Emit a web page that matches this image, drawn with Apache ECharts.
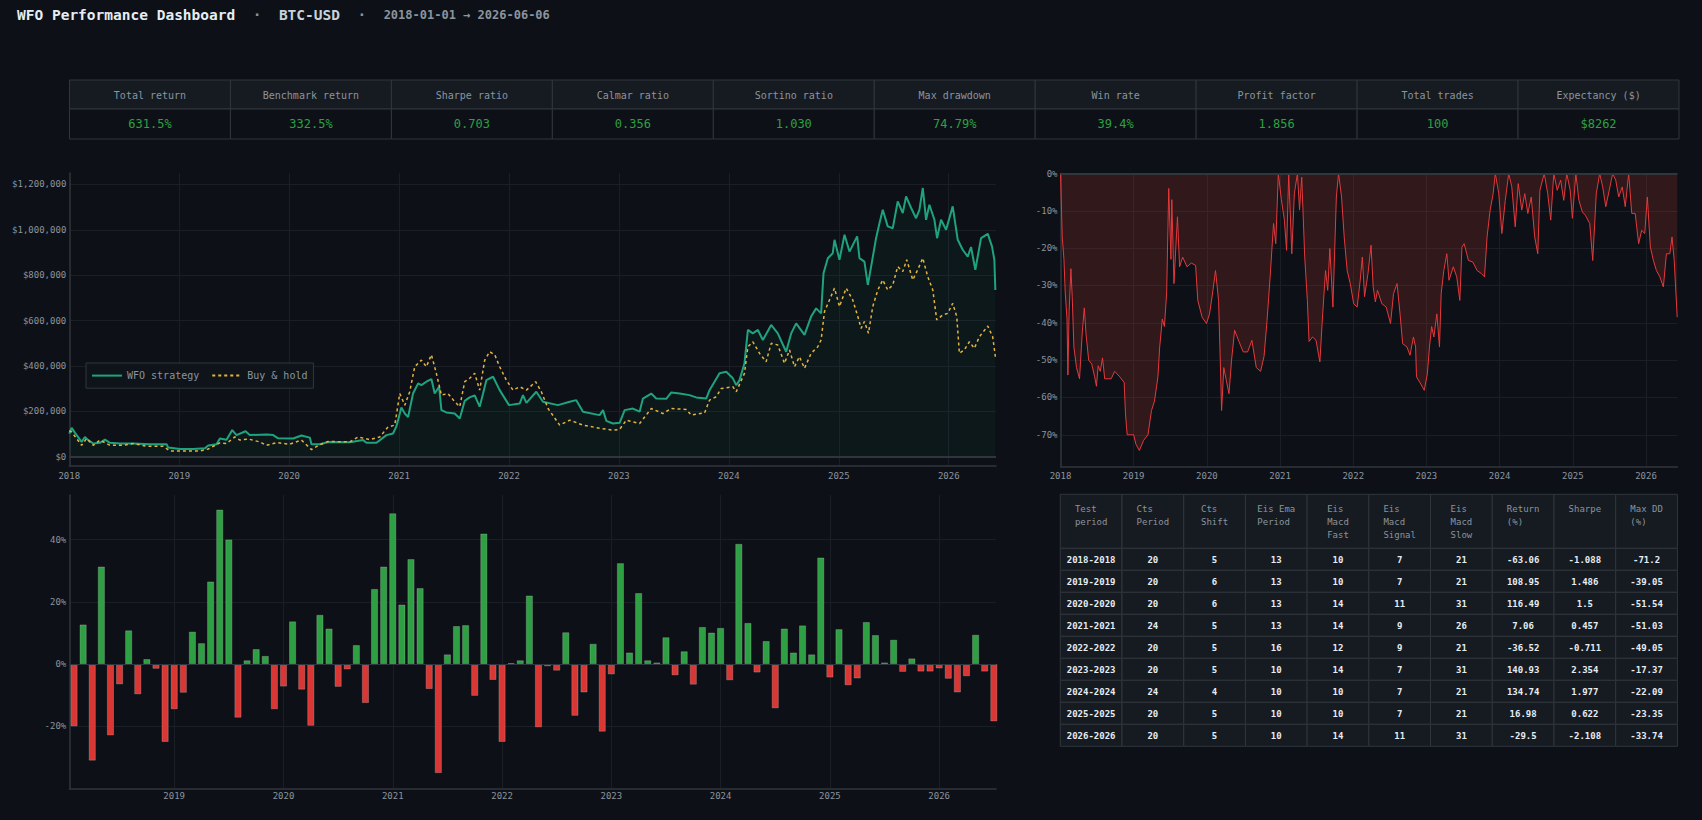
<!DOCTYPE html>
<html><head><meta charset="utf-8">
<script src="https://cdn.jsdelivr.net/npm/echarts@6/dist/echarts.min.js"></script>
<style>html,body{margin:0;padding:0;background:#0d1117;overflow:hidden}#c{width:1702px;height:820px}</style>
</head><body><div id="c"></div>
<script>
const FONT = "'DejaVu Sans Mono', 'Liberation Mono', monospace";

// ---------- KPI table ----------
const kpiLabels = ['Total return','Benchmark return','Sharpe ratio','Calmar ratio','Sortino ratio','Max drawdown','Win rate','Profit factor','Total trades','Expectancy ($)'];
const kpiValues = ['631.5%','332.5%','0.703','0.356','1.030','74.79%','39.4%','1.856','100','$8262'];

// ---------- Equity curves (decimal year, $) ----------
const strategyYears = [2018.000,2018.021,2018.052,2018.112,2018.142,2018.173,2018.218,2018.279,2018.324,2018.370,2018.461,2018.582,2018.733,2018.885,2018.900,2019.006,2019.127,2019.233,2019.264,2019.339,2019.370,2019.430,2019.482,2019.521,2019.603,2019.642,2019.794,2019.855,2019.900,2020.036,2020.112,2020.188,2020.203,2020.279,2020.355,2020.552,2020.673,2020.703,2020.794,2020.885,2020.945,2020.976,2021.021,2021.052,2021.082,2021.127,2021.173,2021.203,2021.248,2021.294,2021.324,2021.364,2021.385,2021.430,2021.506,2021.552,2021.597,2021.642,2021.688,2021.733,2021.764,2021.794,2021.855,2021.915,2022.000,2022.097,2022.127,2022.158,2022.248,2022.309,2022.445,2022.552,2022.612,2022.673,2022.824,2022.855,2022.885,2022.945,2023.006,2023.052,2023.127,2023.188,2023.218,2023.294,2023.339,2023.430,2023.476,2023.552,2023.642,2023.703,2023.794,2023.824,2023.915,2023.976,2024.036,2024.067,2024.097,2024.142,2024.173,2024.218,2024.264,2024.309,2024.385,2024.445,2024.521,2024.567,2024.612,2024.688,2024.748,2024.794,2024.839,2024.861,2024.900,2024.945,2024.961,2025.006,2025.052,2025.097,2025.167,2025.188,2025.233,2025.264,2025.294,2025.339,2025.370,2025.400,2025.445,2025.491,2025.536,2025.582,2025.612,2025.658,2025.703,2025.733,2025.764,2025.794,2025.824,2025.870,2025.894,2025.930,2025.976,2026.036,2026.082,2026.127,2026.173,2026.203,2026.242,2026.294,2026.355,2026.394,2026.415,2026.424];
const strategyValues = [103000,128000,106000,66000,88000,74000,59000,62000,76000,62000,59000,59000,56000,56000,41000,35000,35000,38000,50000,56000,81000,76000,118000,96000,113000,96000,99000,96000,82000,81000,94000,85000,56000,56000,66000,65000,74000,62000,62000,96000,103000,135000,218000,191000,176000,279000,324000,316000,331000,343000,279000,309000,206000,196000,191000,169000,247000,262000,271000,221000,279000,338000,353000,294000,228000,235000,272000,238000,287000,243000,228000,243000,250000,199000,184000,206000,159000,147000,150000,206000,213000,199000,257000,279000,257000,256000,284000,279000,272000,262000,257000,294000,368000,375000,346000,316000,338000,412000,559000,544000,559000,515000,581000,544000,463000,544000,588000,537000,618000,654000,632000,809000,875000,897000,956000,868000,978000,904000,971000,875000,860000,757000,838000,963000,1029000,1088000,1015000,1007000,1125000,1074000,1147000,1096000,1051000,1088000,1184000,1044000,1110000,1044000,963000,1044000,1000000,1103000,956000,912000,882000,924000,824000,963000,982000,926000,868000,735000];
const holdYears = [2018.000,2018.021,2018.112,2018.158,2018.218,2018.279,2018.370,2018.491,2018.582,2018.703,2018.855,2018.915,2019.036,2019.188,2019.264,2019.370,2019.430,2019.506,2019.552,2019.627,2019.733,2019.794,2019.885,2020.006,2020.112,2020.203,2020.264,2020.355,2020.552,2020.627,2020.733,2020.824,2020.900,2020.961,2021.006,2021.052,2021.097,2021.142,2021.203,2021.248,2021.294,2021.339,2021.385,2021.445,2021.506,2021.552,2021.597,2021.642,2021.688,2021.733,2021.779,2021.824,2021.870,2021.915,2021.976,2022.036,2022.097,2022.158,2022.242,2022.294,2022.355,2022.461,2022.552,2022.673,2022.839,2022.945,2023.006,2023.067,2023.188,2023.294,2023.400,2023.476,2023.612,2023.658,2023.779,2023.824,2023.885,2023.930,2024.036,2024.067,2024.142,2024.173,2024.218,2024.279,2024.339,2024.385,2024.445,2024.506,2024.552,2024.597,2024.642,2024.688,2024.748,2024.809,2024.839,2024.870,2024.915,2024.961,2025.006,2025.067,2025.127,2025.173,2025.203,2025.233,2025.270,2025.309,2025.355,2025.400,2025.445,2025.491,2025.536,2025.582,2025.618,2025.673,2025.718,2025.764,2025.809,2025.855,2025.891,2025.945,2025.991,2026.036,2026.073,2026.097,2026.142,2026.188,2026.233,2026.279,2026.355,2026.400,2026.424];
const holdValues = [115000,110000,51000,81000,51000,74000,51000,51000,59000,47000,47000,26000,26000,26000,35000,62000,59000,88000,74000,79000,66000,51000,63000,56000,74000,32000,50000,68000,66000,88000,76000,88000,132000,140000,279000,228000,287000,397000,426000,397000,450000,368000,272000,279000,243000,221000,331000,346000,368000,294000,426000,463000,450000,397000,338000,294000,309000,294000,331000,287000,213000,140000,162000,140000,125000,118000,121000,162000,147000,213000,191000,213000,209000,184000,194000,250000,265000,301000,309000,287000,368000,485000,507000,456000,419000,500000,493000,412000,471000,397000,441000,390000,456000,485000,515000,640000,691000,743000,662000,743000,691000,618000,566000,596000,544000,662000,735000,779000,735000,757000,838000,816000,868000,779000,824000,875000,794000,735000,603000,625000,632000,676000,618000,456000,471000,507000,478000,529000,576000,529000,441000];

// ---------- Drawdown (decimal year, %) ----------
const ddYears = [2018.000,2018.024,2018.047,2018.065,2018.089,2018.101,2018.118,2018.142,2018.160,2018.183,2018.219,2018.260,2018.296,2018.325,2018.349,2018.385,2018.426,2018.467,2018.491,2018.515,2018.544,2018.574,2018.604,2018.692,2018.740,2018.811,2018.870,2018.888,2018.911,2018.959,2019.000,2019.030,2019.077,2019.136,2019.195,2019.243,2019.284,2019.331,2019.355,2019.391,2019.420,2019.450,2019.479,2019.509,2019.521,2019.550,2019.598,2019.627,2019.669,2019.728,2019.787,2019.846,2019.876,2019.935,2019.994,2020.036,2020.083,2020.118,2020.160,2020.183,2020.201,2020.231,2020.266,2020.302,2020.337,2020.379,2020.438,2020.497,2020.556,2020.615,2020.675,2020.734,2020.781,2020.822,2020.864,2020.911,2020.941,2020.976,2021.018,2021.059,2021.089,2021.118,2021.160,2021.195,2021.237,2021.266,2021.296,2021.337,2021.373,2021.396,2021.444,2021.491,2021.544,2021.574,2021.621,2021.651,2021.680,2021.722,2021.769,2021.799,2021.840,2021.876,2021.917,2021.959,2022.006,2022.053,2022.095,2022.124,2022.154,2022.201,2022.243,2022.272,2022.302,2022.331,2022.391,2022.450,2022.509,2022.550,2022.598,2022.639,2022.675,2022.734,2022.775,2022.822,2022.852,2022.864,2022.923,2022.970,2023.012,2023.041,2023.071,2023.101,2023.142,2023.178,2023.201,2023.237,2023.278,2023.308,2023.367,2023.414,2023.456,2023.485,2023.515,2023.574,2023.633,2023.692,2023.751,2023.793,2023.828,2023.870,2023.911,2023.941,2023.988,2024.030,2024.077,2024.124,2024.166,2024.213,2024.254,2024.302,2024.343,2024.385,2024.432,2024.479,2024.521,2024.550,2024.609,2024.657,2024.698,2024.740,2024.787,2024.834,2024.876,2024.917,2024.964,2024.994,2025.041,2025.083,2025.130,2025.172,2025.231,2025.272,2025.320,2025.367,2025.408,2025.450,2025.497,2025.544,2025.586,2025.627,2025.675,2025.716,2025.763,2025.805,2025.852,2025.899,2025.941,2025.982,2026.018,2026.059,2026.101,2026.142,2026.189,2026.237,2026.278,2026.325,2026.355,2026.385,2026.426];
const ddValues = [0,-17,-23,-32,-39,-54,-37,-25.5,-33,-46.5,-52,-55,-43,-36,-43,-50,-51,-54.5,-57,-51.5,-53,-49.4,-55,-55,-53,-54.5,-56,-64.4,-70,-70,-70,-72.5,-74.2,-71.5,-70,-63.5,-61,-54.5,-46.5,-39,-41,-32,-4,-23,-7,-29.5,-11.6,-25,-22.4,-25,-24,-24.6,-34,-38.5,-40.2,-37.6,-31.3,-26,-34,-50,-63.5,-52,-55.5,-59,-50,-42,-45,-47.8,-47.8,-44.7,-52,-53,-49,-39.4,-27.7,-13.4,-18.8,0,-7,-12.5,-20.6,0,-21.5,-5.4,0,-9.8,-1,-22.4,-34,-45,-43.8,-44.7,-50.5,-40.2,-26,-31.3,-20.1,-35.8,-6.3,0,-6.3,-17,-26,-29.5,-34.9,-35.8,-28.6,-22.4,-33,-26.8,-19.2,-30.4,-34.4,-31.3,-34.9,-35.8,-40.2,-32.2,-29.5,-37.6,-45.6,-46.5,-48.7,-43.8,-46.5,-54.5,-56.4,-58.1,-53.7,-46.5,-41,-43.8,-37.6,-46.5,-32.2,-26,-21.5,-28.6,-25,-27.7,-34,-19.7,-18.8,-23.3,-23.7,-26,-26.8,-27.7,-17,-9.8,-5.4,0,-5.4,-16.1,-7.2,0,-3.6,-14.3,-2.7,-9.8,-5.4,-10.7,-6.3,-17,-21.5,-4.5,0,-5.4,-12.5,0,-4.5,-1.8,-7.2,0,-4.5,-12,0,-7.2,-10.3,-11.2,-13.4,-23.3,-5.4,0,-3.6,-8.9,-4.5,0,-1.8,-6.3,-3.6,-8.9,0,-10.7,-10.7,-18.8,-15.2,-16.1,-6.3,-19.7,-23.3,-26,-27.7,-30.4,-21.5,-21.5,-17,-23.3,-38.5];

// ---------- Monthly returns (%), first bar = January 2018 ----------
const firstMonthYear = 2018;
const monthlyReturns = [-20.0,12.7,-31.0,31.3,-22.9,-6.5,10.8,-9.7,1.6,-1.5,-25.0,-14.5,
 -9.2,10.4,6.7,26.5,49.6,40.0,-17.2,1.2,4.8,2.6,-14.5,-7.2,
 13.7,-8.2,-19.8,15.8,11.4,-7.3,-1.7,6.1,-12.5,24.1,31.3,48.4,
 19.1,33.7,24.4,-8.0,-35.0,3.1,12.2,12.5,-10.2,41.9,-5.1,-25.0,
 0.3,1.2,22.0,-20.3,-0.7,-2.1,10.2,-16.6,-9.1,6.5,-21.7,-3.3,
 32.4,3.7,22.8,1.2,0.5,8.6,-3.6,4.1,-6.6,11.9,10.1,11.6,
 -5.2,38.6,13.2,-2.7,7.4,-14.2,11.4,3.7,12.4,3.1,34.2,-4.3,
 11.2,-6.8,-4.6,13.5,9.3,0.5,7.8,-2.5,1.8,-2.4,-2.4,-1.4,
 -4.7,-9.1,-3.9,9.4,-2.4,-18.4];

// ---------- Parameter table ----------
const paramHeaders = ['Test\nperiod','Cts\nPeriod','Cts\nShift','Eis Ema\nPeriod','Eis\nMacd\nFast','Eis\nMacd\nSignal','Eis\nMacd\nSlow','Return\n(%)','Sharpe','Max DD\n(%)'];
const testPeriods = ['2018-2018','2019-2019','2020-2020','2021-2021','2022-2022','2023-2023','2024-2024','2025-2025','2026-2026'];
const ctsPeriod = [20,20,20,24,20,20,24,20,20];
const ctsShift = [5,6,6,5,5,5,4,5,5];
const eisEmaPeriod = [13,13,13,13,16,10,10,10,10];
const eisMacdFast = [10,10,14,14,12,14,10,10,14];
const eisMacdSignal = [7,7,11,9,9,7,7,7,11];
const eisMacdSlow = [21,21,31,26,21,31,21,21,31];
const returnPct = [-63.06,108.95,116.49,7.06,-36.52,140.93,134.74,16.98,-29.5];
const sharpe = [-1.088,1.486,1.5,0.457,-0.711,2.354,1.977,0.622,-2.108];
const maxDD = [-71.2,-39.05,-51.54,-51.03,-49.05,-17.37,-22.09,-23.35,-33.74];

// ================= build =================
const pair = (xs, ys) => xs.slice(0, Math.min(xs.length, ys.length)).map((x, i) => [x, ys[i]]);
const money = v => '$' + String(v).replace(/\B(?=(\d{3})+(?!\d))/g, ',');
const barData = monthlyReturns.map((v, i) => ({
  value: [firstMonthYear + (i + 1) / 12, v],
  itemStyle: { color: v >= 0 ? '#2ea043' : '#da3633' }
}));

const G = [];
// KPI table
const kx = 69.5, ky = 80, kw = 1609.5 / kpiLabels.length, kh1 = 29, kh2 = 30;
kpiLabels.forEach((lab, i) => {
  const x = kx + i * kw;
  G.push({ type: 'rect', shape: { x, y: ky, width: kw, height: kh1 }, style: { fill: '#161b22', stroke: '#30363d', lineWidth: 1 }, silent: true });
  G.push({ type: 'rect', shape: { x, y: ky + kh1, width: kw, height: kh2 }, style: { fill: '#0d1117', stroke: '#30363d', lineWidth: 1 }, silent: true });
  G.push({ type: 'text', x: x + kw / 2, y: ky + kh1 / 2 + 0.5, style: { text: lab, fill: '#8b949e', fontSize: 10, fontFamily: FONT, textAlign: 'center', textVerticalAlign: 'middle', align: 'center', verticalAlign: 'middle' }, silent: true });
  G.push({ type: 'text', x: x + kw / 2, y: ky + kh1 + kh2 / 2, style: { text: kpiValues[i], fill: '#2ea043', fontSize: 12, fontFamily: FONT, textAlign: 'center', textVerticalAlign: 'middle', align: 'center', verticalAlign: 'middle' }, silent: true });
});

// Parameter table
const tx = 1060.3, ty = 494.3, tw = 617.1 / 10, th0 = 54, trh = 22;
const cols = [testPeriods, ctsPeriod, ctsShift, eisEmaPeriod, eisMacdFast, eisMacdSignal, eisMacdSlow, returnPct, sharpe, maxDD];
const cw = 9 * 0.602;
paramHeaders.forEach((h, c) => {
  const x = tx + c * tw;
  G.push({ type: 'rect', shape: { x, y: ty, width: tw, height: th0 }, style: { fill: '#161b22', stroke: '#30363d', lineWidth: 1 }, silent: true });
  const maxLen = Math.max(...h.split('\n').map(s => s.length));
  G.push({ type: 'text', x: x + (tw - maxLen * cw) / 2, y: ty + 8.5, style: { text: h, fill: '#8b949e', fontSize: 9, fontFamily: FONT, lineHeight: 13, textAlign: 'left', textVerticalAlign: 'top', align: 'left', verticalAlign: 'top' }, silent: true });
  cols[c].forEach((v, r) => {
    const y = ty + th0 + r * trh;
    G.push({ type: 'rect', shape: { x, y, width: tw, height: trh }, style: { fill: '#161b22', stroke: '#30363d', lineWidth: 1 }, silent: true });
    G.push({ type: 'text', x: x + tw / 2, y: y + trh / 2 + 0.5, style: { text: String(v), fill: '#e6edf3', fontSize: 9, fontWeight: 'bold', fontFamily: FONT, textAlign: 'center', textVerticalAlign: 'middle', align: 'center', verticalAlign: 'middle' }, silent: true });
  });
});

const axisLbl = { color: '#8b949e', fontSize: 9, fontFamily: FONT };
const splitL = { show: true, showMinLine: false, showMaxLine: false, lineStyle: { color: '#1a1f26', width: 1 } };
const axLine = { show: true, onZero: false, lineStyle: { color: '#30363d', width: 1.5 } };
const yearFmt = v => Math.abs(v - Math.round(v)) < 1e-6 ? String(Math.round(v)) : '';
const zeroLine = (w) => ({ silent: true, symbol: 'none', label: { show: false }, animation: false, lineStyle: { color: '#30363d', width: w, type: 'solid' }, data: [{ yAxis: 0 }] });

const option = {
  backgroundColor: '#0d1117',
  animation: false,
  textStyle: { fontFamily: FONT },
  title: {
    left: 17, top: 5, padding: 0,
    text: '{a|WFO Performance Dashboard}{s|  ·  }{b|BTC-USD}{s|  ·  }{c|2018-01-01 → 2026-06-06}',
    textStyle: {
      rich: {
        a: { fontFamily: FONT, fontSize: 14.5, fontWeight: 'bold', color: '#e6edf3', lineHeight: 20 },
        s: { fontFamily: FONT, fontSize: 14.5, color: '#8b949e', lineHeight: 20 },
        b: { fontFamily: FONT, fontSize: 14.5, color: '#c9d1d9', lineHeight: 20 },
        c: { fontFamily: FONT, fontSize: 12, color: '#8b949e', lineHeight: 20 }
      }
    }
  },
  legend: {
    data: ['WFO strategy', 'Buy & hold'],
    left: 86, top: 363, orient: 'horizontal',
    itemWidth: 30, itemHeight: 14, itemGap: 12, padding: [7, 6, 7, 5],
    backgroundColor: '#0f141b', borderColor: '#30363d', borderWidth: 1,
    itemStyle: { opacity: 0 },
    textStyle: { color: '#8b949e', fontSize: 10, fontFamily: FONT },
    selectedMode: false
  },
  grid: [
    { left: 69.3, top: 173, width: 926.7, height: 293, outerBoundsMode: 'none', containLabel: false },
    { left: 1060.5, top: 173.5, width: 617, height: 293, outerBoundsMode: 'none', containLabel: false },
    { left: 69.3, top: 495, width: 926.7, height: 293.3, outerBoundsMode: 'none', containLabel: false }
  ],
  xAxis: [
    { type: 'value', gridIndex: 0, min: 2018, max: 2026.43, splitNumber: 8, axisLine: axLine, axisTick: { show: false }, splitLine: splitL, axisLabel: { ...axisLbl, margin: 5, showMaxLabel: false, formatter: yearFmt } },
    { type: 'value', gridIndex: 1, min: 2018, max: 2026.43, splitNumber: 8, axisLine: axLine, axisTick: { show: false }, splitLine: splitL, axisLabel: { ...axisLbl, margin: 5, showMaxLabel: false, formatter: yearFmt } },
    { type: 'value', gridIndex: 2, min: 2018.04, max: 2026.52, splitNumber: 8, axisLine: axLine, axisTick: { show: false }, splitLine: splitL, axisLabel: { ...axisLbl, margin: 3, showMinLabel: false, showMaxLabel: false, formatter: yearFmt } }
  ],
  yAxis: [
    { type: 'value', gridIndex: 0, min: -40000, max: 1250000, splitNumber: 6, axisLine: { show: true, lineStyle: { color: '#30363d', width: 1.5 } }, axisTick: { show: false }, splitLine: splitL,
      axisLabel: { ...axisLbl, margin: 3, showMinLabel: false, showMaxLabel: false, formatter: v => (v >= 0 && v % 200000 === 0) ? money(v) : '' } },
    { type: 'value', gridIndex: 1, min: -78.5, max: 0, splitNumber: 8, axisLine: { show: true, lineStyle: { color: '#30363d', width: 1.5 } }, axisTick: { show: false }, splitLine: splitL,
      axisLabel: { ...axisLbl, margin: 3, showMinLabel: false, formatter: v => (Math.abs(v % 10) < 1e-9) ? Math.round(v) + '%' : '' } },
    { type: 'value', gridIndex: 2, min: -39.9, max: 54.3, splitNumber: 5, axisLine: { show: true, lineStyle: { color: '#30363d', width: 1.5 } }, axisTick: { show: false }, splitLine: splitL,
      axisLabel: { ...axisLbl, margin: 3, showMinLabel: false, showMaxLabel: false, formatter: v => (Math.abs(v % 20) < 1e-9) ? Math.round(v) + '%' : '' } }
  ],
  series: [
    { name: 'WFO strategy', type: 'line', xAxisIndex: 0, yAxisIndex: 0, data: pair(strategyYears, strategyValues),
      symbol: 'none', showSymbol: false, lineStyle: { color: '#1fa37f', width: 2 }, itemStyle: { color: '#1fa37f' },
      areaStyle: { color: 'rgba(31,163,127,0.07)' }, z: 3, markLine: zeroLine(2) },
    { name: 'Buy & hold', type: 'line', xAxisIndex: 0, yAxisIndex: 0, data: pair(holdYears, holdValues),
      symbol: 'none', showSymbol: false, lineStyle: { color: '#e3b341', width: 1.5, type: [3, 3] }, itemStyle: { color: '#e3b341' }, z: 4 },
    { name: 'Drawdown', type: 'line', xAxisIndex: 1, yAxisIndex: 1, data: pair(ddYears, ddValues),
      symbol: 'none', showSymbol: false, lineStyle: { color: '#e5393b', width: 1 }, itemStyle: { color: '#e5393b' },
      areaStyle: { color: 'rgba(218,54,51,0.25)' }, markLine: zeroLine(2) },
    { name: 'Monthly return', type: 'bar', xAxisIndex: 2, yAxisIndex: 2, data: barData, barWidth: 7,
      itemStyle: { borderColor: 'rgba(200,200,200,0.35)', borderWidth: 0.8 }, markLine: zeroLine(1) }
  ],
  graphic: { elements: G }
};

const chart = echarts.init(document.getElementById('c'), null, { renderer: 'svg', width: 1702, height: 820 });
chart.setOption(option);
</script>
</body></html>
